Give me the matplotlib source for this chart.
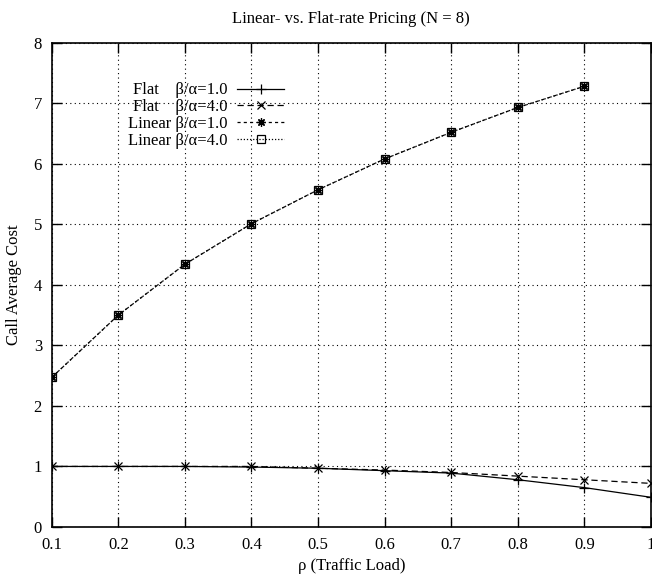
import matplotlib
matplotlib.use("Agg")
import matplotlib.pyplot as plt

plt.rcParams["font.family"] = ["Liberation Serif", "DejaVu Serif"]
plt.rcParams["font.size"] = 12

# данные
load = [0.1, 0.2, 0.3, 0.4, 0.5, 0.6, 0.7, 0.8, 0.9, 1.0]
flat_1 = [1.00, 1.00, 1.00, 0.99, 0.97, 0.93, 0.89, 0.78, 0.65, 0.49]
flat_4 = [1.00, 1.00, 1.00, 1.00, 0.97, 0.94, 0.90, 0.84, 0.78, 0.72]
load_linear = [0.1, 0.2, 0.3, 0.4, 0.5, 0.6, 0.7, 0.8, 0.9]
linear_1 = [2.47, 3.50, 4.34, 5.01, 5.57, 6.08, 6.52, 6.93, 7.28]
linear_4 = [2.47, 3.50, 4.34, 5.01, 5.57, 6.08, 6.52, 6.93, 7.28]

x_ticks = [0.1, 0.2, 0.3, 0.4, 0.5, 0.6, 0.7, 0.8, 0.9, 1.0]
x_labels = ["0.1", "0.2", "0.3", "0.4", "0.5", "0.6", "0.7", "0.8", "0.9", "1"]
y_ticks = [0, 1, 2, 3, 4, 5, 6, 7, 8]

fig = plt.figure(figsize=(6.52, 5.77), dpi=100)
ax = fig.add_axes([0.0793, 0.0867, 0.9192, 0.8393])

ax.plot(load, flat_1, color="black", lw=0.9, linestyle="-",
        marker="+", markersize=7, markeredgewidth=0.9, label="Flat    β/α=1.0")
ax.plot(load, flat_4, color="black", lw=0.9, linestyle=(0, (5, 3)),
        marker="x", markersize=6, markeredgewidth=0.9, label="Flat    β/α=4.0")
ax.plot(load_linear, linear_1, color="black", lw=0.9, linestyle=(0, (2.5, 2.5)),
        marker=(8, 2, 0), markersize=6, markeredgewidth=0.9, label="Linear β/α=1.0")
ax.plot(load_linear, linear_4, color="black", lw=0.9, linestyle=(0, (1, 1.5)),
        marker="s", markersize=5.5, markerfacecolor="none", markeredgewidth=0.9,
        label="Linear β/α=4.0")

ax.set_xlim(0.1, 1.0)
ax.set_ylim(0, 8)
ax.set_xticks(x_ticks)
ax.set_xticklabels(x_labels)
ax.set_yticks(y_ticks)
ax.tick_params(direction="in", length=7, width=1.0, top=True, right=True, pad=7)
ax.grid(True, color="black", linestyle=(0, (1, 3)), linewidth=0.8)
for spine in ax.spines.values():
    spine.set_linewidth(1.2)

ax.set_title("Linear- vs. Flat-rate Pricing (N = 8)", fontsize=12, pad=14)
ax.set_xlabel("ρ (Traffic Load)", fontsize=12, labelpad=4)
ax.set_ylabel("Call Average Cost", fontsize=12, labelpad=8)

ax.legend(loc="upper left", bbox_to_anchor=(0.127, 0.918), frameon=False,
          markerfirst=False, fontsize=12, handlelength=2.8, handletextpad=0.6,
          labelspacing=0.05, borderpad=0, borderaxespad=0)

fig.savefig("out.png", dpi=100)
